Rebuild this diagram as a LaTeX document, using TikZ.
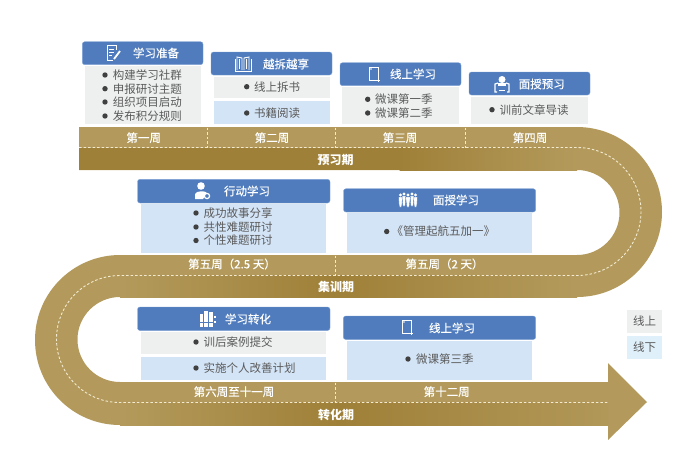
\documentclass[tikz,border=0pt]{standalone}
\usepackage{fontspec}
\setmainfont{Noto Sans CJK SC}
\newfontfamily\heavyfont[FakeBold=0.35]{Noto Sans CJK SC}
\usepackage{tikz}
\definecolor{bandlight}{HTML}{B39A5C}
\definecolor{banddark}{HTML}{9F8038}
\definecolor{headblue}{HTML}{507CBD}
\definecolor{headedge}{HTML}{7FA3D6}
\definecolor{bodygray}{HTML}{EEF0F0}
\definecolor{bodyblue}{HTML}{D3E4F6}
\definecolor{legendblue}{HTML}{DFF0FA}
\definecolor{dashcream}{HTML}{F3EAD2}
\definecolor{itemgray}{HTML}{5A5A5A}
\definecolor{dotdark}{HTML}{404040}
\tikzstyle{cardhead} = [fill=headblue,draw=headedge,line width=0.4pt,rounded corners=2.5pt]
\tikzstyle{headtext} = [text=white,font=\heavyfont\fontsize{11.5}{12}\selectfont,inner sep=0pt]
\tikzstyle{itemtext} = [text=itemgray,font=\fontsize{11.5}{12}\selectfont,inner sep=0pt,anchor=west]
\tikzstyle{weektext} = [text=white,font=\heavyfont\fontsize{11.5}{12}\selectfont,inner sep=0pt]
\tikzstyle{phasetext} = [text=white,font=\fontsize{12}{12}\selectfont\bfseries,inner sep=0pt]
\tikzstyle{weekline} = [dashcream,line width=0.9pt,dash pattern=on 2.5pt off 2pt]
\tikzstyle{iconline} = [white,line width=0.9pt]
\newcommand{\tableticon}[2]{
	\begin{scope}[shift={(#1,#2)}]
		\draw[iconline] (-5,-7) rectangle (4,6);
		\draw[iconline] (2,6) -- (6,6) (4,6) -- (4,8);
		\fill[white] (-3,-5) circle (0.8);
	\end{scope}
}
\newcommand{\manicon}[3]{
	\begin{scope}[shift={(#1,#2)}]
		\fill[white] (0,-5) circle (1.6);
		\draw[headblue,fill=white,line width=0.4pt] (-#3,-3) -- (#3,-3) -- (1.4,#3+3) -- (0.9,7) -- (-0.9,7) -- (-1.4,#3+3) -- cycle;
	\end{scope}
}
\begin{document}
\begin{tikzpicture}[x=1pt,y=-1pt]
	\useasboundingbox (0,0) rectangle (694,456);
	\fill[white] (0,0) rectangle (694,456);
	%road
	\fill[bandlight] (79,127) -- (577,127) arc[start angle=-90,end angle=90,radius=85] -- (120,297)
		arc[start angle=-90,end angle=-270,radius=42.5] -- (608,382) -- (608,363) -- (647,402)
		-- (608,440) -- (608,425) -- (120,425) arc[start angle=90,end angle=270,radius=85]
		-- (577,255) arc[start angle=90,end angle=-90,radius=42.5] -- (79,170) -- cycle;
	%lower half of the road, darker in the middle
	\fill[banddark] (79,147.5) rectangle (400,170);
	\shade[left color=banddark,right color=bandlight] (399.5,147.5) rectangle (577,170);
	\shade[left color=bandlight,right color=banddark] (120,275.5) rectangle (336,297);
	\shade[left color=banddark,right color=bandlight] (335.5,275.5) rectangle (577,297);
	\shade[left color=bandlight,right color=banddark] (120,402.5) rectangle (340,425);
	\shade[left color=banddark,right color=bandlight!90!banddark] (339.5,402.5) rectangle (608,425);
	%dashes
	\draw[weekline] (79,147.5) -- (577,147.5) arc[start angle=-90,end angle=90,radius=64] -- (120,275.5)
		arc[start angle=-90,end angle=-270,radius=63.5] -- (608,402.5);
	\foreach \wx in {207,335.7,465.7} {
		\draw[weekline] (\wx,127.5) -- (\wx,147.5);
	}
	\draw[weekline] (335.7,255.5) -- (335.7,275.5);
	\draw[weekline] (335.7,382.5) -- (335.7,402.5);
	%weeks
	\node[weektext] (weekA) at (143.7,137.7) {第一周};
	\node[weektext] (weekB) at (272,137.7) {第二周};
	\node[weektext] (weekC) at (400,137.7) {第三周};
	\node[weektext] (weekD) at (530,137.7) {第四周};
	\node[weektext] (weekE) at (232,264) {第五周（2.5 天）};
	\node[weektext] (weekF) at (444.5,264) {第五周（2 天）};
	\node[weektext] (weekG) at (234,391.7) {第六周至十一周};
	\node[weektext] (weekH) at (446.7,391.7) {第十二周};
	\node[phasetext] (phaseA) at (335.7,160) {预习期};
	\node[phasetext] (phaseB) at (336,287) {集训期};
	\node[phasetext] (phaseC) at (336,415) {转化期};
	%card bodies
	\fill[bodygray] (85,65.7) rectangle (201,124);
	\fill[bodygray] (213.5,76.5) rectangle (330,98);
	\fill[bodyblue] (213.5,101) rectangle (330,124);
	\fill[bodygray] (342,87) rectangle (459,124);
	\fill[bodygray] (471,96.5) rectangle (588,124);
	\fill[bodyblue] (141,204) rectangle (326,252.5);
	\fill[bodyblue] (347,213) rectangle (532,252.5);
	\fill[bodygray] (141,331.5) rectangle (326,354);
	\fill[bodyblue] (141,356.5) rectangle (326,380);
	\fill[bodyblue] (347,340.5) rectangle (532,380);
	%card heads
	\draw[cardhead] (82.3,41.7) rectangle (203,64.7);
	\draw[cardhead] (211,52) rectangle (332,75);
	\draw[cardhead] (340,62.7) rectangle (461,85.7);
	\draw[cardhead] (469,72) rectangle (590,95);
	\draw[cardhead] (137.5,179.3) rectangle (330,203);
	\draw[cardhead] (343.5,188.7) rectangle (535.7,212);
	\draw[cardhead] (137.5,307) rectangle (330,330.5);
	\draw[cardhead] (343.3,316) rectangle (535.7,339.5);
	\node[headtext] (headA) at (156,53) {学习准备};
	\node[headtext] (headB) at (286,64) {越拆越享};
	\node[headtext] (headC) at (413,74) {线上学习};
	\node[headtext] (headD) at (541.7,84) {面授预习};
	\node[headtext] (headE) at (247,191) {行动学习};
	\node[headtext] (headF) at (456,200) {面授学习};
	\node[headtext] (headG) at (248,319) {学习转化};
	\node[headtext] (headH) at (452,328) {线上学习};
	%card items
	\foreach \iy/\itxt [count=\n] in {75/构建学习社群,88.7/申报研讨主题,102/组织项目启动,116/发布积分规则} {
		\fill[dotdark] (105,\iy) circle (2.7);
		\node[itemtext] (itemA\n) at (112.7,\iy) {\itxt};
	}
	\foreach \iy/\itxt [count=\n] in {86.7/线上拆书,113/书籍阅读} {
		\fill[dotdark] (246.7,\iy) circle (2.7);
		\node[itemtext] (itemB\n) at (254,\iy) {\itxt};
	}
	\foreach \iy/\itxt [count=\n] in {99.3/微课第一季,113/微课第二季} {
		\fill[dotdark] (367.7,\iy) circle (2.7);
		\node[itemtext] (itemC\n) at (375,\iy) {\itxt};
	}
	\fill[dotdark] (492,109.7) circle (2.7);
	\node[itemtext] (itemD) at (499.3,109.7) {训前文章导读};
	\foreach \iy/\itxt [count=\n] in {213/成功故事分享,227/共性难题研讨,240.5/个性难题研讨} {
		\fill[dotdark] (196,\iy) circle (2.7);
		\node[itemtext] (itemE\n) at (203.3,\iy) {\itxt};
	}
	\fill[dotdark] (386.7,231.5) circle (2.7);
	\node[itemtext] (itemF) at (391.5,231.5) {《管理起航五加一》};
	\foreach \iy/\itxt [count=\n] in {342/训后案例提交,368/实施个人改善计划} {
		\fill[dotdark] (196,\iy) circle (2.7);
		\node[itemtext] (itemG\n) at (203.3,\iy) {\itxt};
	}
	\fill[dotdark] (408,359) circle (2.7);
	\node[itemtext] (itemH) at (416,359) {微课第三季};
	%icons
	\begin{scope}[shift={(113,53)}]
		\draw[iconline] (3,-3) -- (3,-7.5) -- (-6,-7.5) -- (-6,7.5) -- (0,7.5);
		\draw[iconline] (-4,-4) -- (1,-4) (-4,-1) -- (1,-1) (-4,2) -- (-1,2);
		\draw[white,line width=1.8pt] (1,6) -- (7,-2);
	\end{scope}
	\begin{scope}[shift={(243,64)}]
		\draw[iconline] (-8,-5) -- (-8,7) -- (8,7) -- (8,-5);
		\draw[iconline] (-6,6) -- (-6,-7) -- (-1,-6) -- (-1,6) (6,6) -- (6,-7) -- (1,-6) -- (1,6);
		\draw[iconline] (-3.5,-5) -- (-3.5,5) (3.5,-5) -- (3.5,5);
	\end{scope}
	\tableticon{374}{74}
	\tableticon{407}{327}
	\begin{scope}[shift={(502,84)}]
		\fill[white] (0,-4.5) circle (3.5);
		\fill[white] (-4,2) -- (-4,-1) -- (4,-1) -- (4,2) -- cycle;
		\draw[white,line width=1.2pt] (-5,8) -- (-7,8) -- (-7,0) -- (-4,-1) (5,8) -- (7,8) -- (7,0) -- (4,-1);
		\draw[white,line width=1pt] (-3,6) -- (3,6);
	\end{scope}
	\begin{scope}[shift={(202,191)}]
		\fill[white] (-1,-5) circle (3.8);
		\fill[white] (-7,8) -- (-7,3) .. controls (-6,-0.5) and (4,-0.5) .. (5,2) -- (1,8) -- cycle;
		\draw[white,fill=headblue,line width=1.2pt] (5,5) circle (2.6);
	\end{scope}
	\manicon{400.5}{200}{2}
	\manicon{415.5}{200}{2}
	\manicon{404}{199}{2}
	\manicon{412}{199}{2}
	\manicon{408}{200}{2.4}
	\begin{scope}[shift={(208,319)}]
		\fill[white] (-8,-5) rectangle (-5,8);
		\fill[white] (-4,-8) rectangle (0,8);
		\fill[white] (1,-7) rectangle (5,8);
		\fill[white] (6,-3) rectangle (8,-1);
		\fill[white] (6,2) rectangle (8,4);
		\draw[headblue,line width=0.6pt] (-8,3) -- (5,3);
	\end{scope}
	%legend
	\fill[bodygray] (627,310) rectangle (662,332.5);
	\fill[legendblue] (627,336) rectangle (662,358.5);
	\node[itemtext,anchor=center] (legendA) at (644.5,321) {线上};
	\node[itemtext,anchor=center] (legendB) at (644.5,347.5) {线下};
\end{tikzpicture}
\end{document}
